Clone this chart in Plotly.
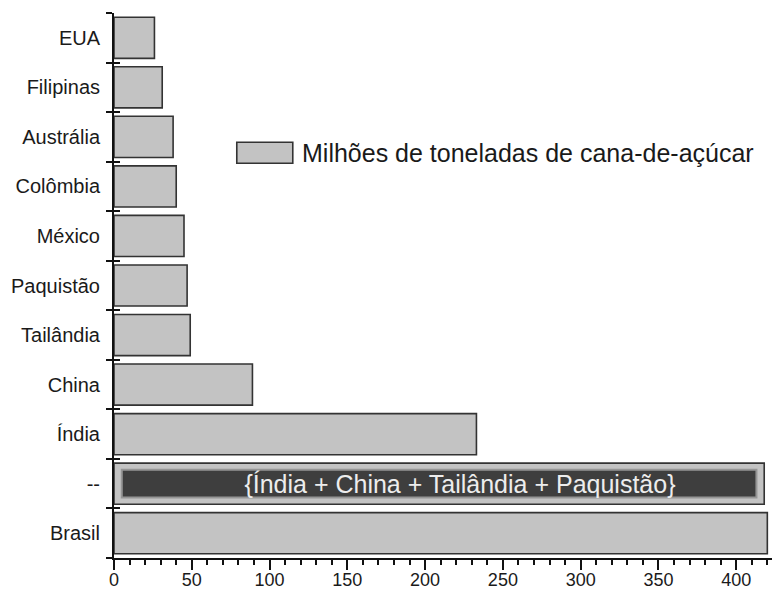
import plotly.graph_objects as go

# Data (bottom to top)
categories = ["Brasil", "--", "Índia", "China", "Tailândia", "Paquistão",
              "México", "Colômbia", "Austrália", "Filipinas", "EUA"]
india, china, tailandia, paquistao = 233, 89, 49, 47
values = [420, india + china + tailandia + paquistao, india, china, tailandia,
          paquistao, 45, 40, 38, 31, 26]
group_label = "{Índia + China + Tailândia + Paquistão}"
legend_label = "Milhões de toneladas de cana-de-açúcar"
x_ticks = [0, 50, 100, 150, 200, 250, 300, 350, 400]

FONT = "Liberation Sans, Arial, sans-serif"
group_sum = values[1]
pad = 5

fig = go.Figure()
fig.add_trace(go.Bar(
    y=categories, x=values, orientation="h", width=0.83,
    marker=dict(color="#c3c3c3", line=dict(color="#333333", width=1.6)),
    showlegend=False, hoverinfo="x+y",
))
fig.add_trace(go.Bar(
    y=["--"], x=[group_sum - 2 * pad], base=[pad], orientation="h", width=0.56,
    marker=dict(color="#3e3e3e", line=dict(color="#959595", width=2)),
    text=["\u00a0" * 6 + group_label], textposition="inside",
    insidetextanchor="middle", constraintext="none",
    textfont=dict(family=FONT, size=25, color="#ededed"),
    showlegend=False, hoverinfo="skip",
))
# helper trace on overlay axis for inner-side boundary ticks
fig.add_trace(go.Scatter(
    y=categories, x=values, yaxis="y2", mode="markers",
    marker=dict(opacity=0), showlegend=False, hoverinfo="skip",
))

fig.update_layout(
    width=774, height=591,
    margin=dict(l=114, r=2, t=13, b=33, autoexpand=False),
    paper_bgcolor="white", plot_bgcolor="white",
    barmode="overlay",
    font=dict(family=FONT, color="#1a1a1a"),
    xaxis=dict(
        range=[0, 423], tickvals=x_ticks, ticks="outside", ticklen=10,
        tickwidth=2, tickcolor="#111", showline=True, linewidth=2,
        linecolor="#111", showgrid=False, zeroline=False, automargin=False,
        tickfont=dict(size=18, color="#1a1a1a"), ticklabelstandoff=-6,
        minor=dict(dtick=10, ticks="outside", ticklen=5, tickwidth=1.5,
                   tickcolor="#111", showgrid=False),
    ),
    yaxis=dict(
        type="category", categoryorder="array", categoryarray=categories,
        range=[-0.5, 10.5], ticks="outside", ticklen=6, tickwidth=2,
        tickcolor="#111", tickson="boundaries", showline=True, linewidth=2,
        linecolor="#111", showgrid=False, tickfont=dict(size=20, color="#1a1a1a"),
        ticklabelstandoff=8, automargin=False,
    ),
    yaxis2=dict(
        type="category", categoryorder="array", categoryarray=categories,
        range=[-0.5, 10.5], overlaying="y", side="left", ticks="inside",
        ticklen=6, tickwidth=2, tickcolor="#111", tickson="boundaries",
        showticklabels=False, showline=False, showgrid=False, automargin=False,
    ),
    shapes=[dict(type="rect", xref="paper", yref="paper",
                 x0=0.1866, x1=0.2717, y0=0.7242, y1=0.7628,
                 fillcolor="#c3c3c3", line=dict(color="#333333", width=1.6))],
    annotations=[dict(text=legend_label, xref="paper", yref="paper",
                      x=0.2823, y=0.7435, xanchor="left", yanchor="middle",
                      showarrow=False, font=dict(size=25, color="#1a1a1a"))],
)

fig.write_html("out.html", config={"displayModeBar": False},
               post_script="document.body.style.margin='0';"
                           "document.body.style.overflow='hidden';")
